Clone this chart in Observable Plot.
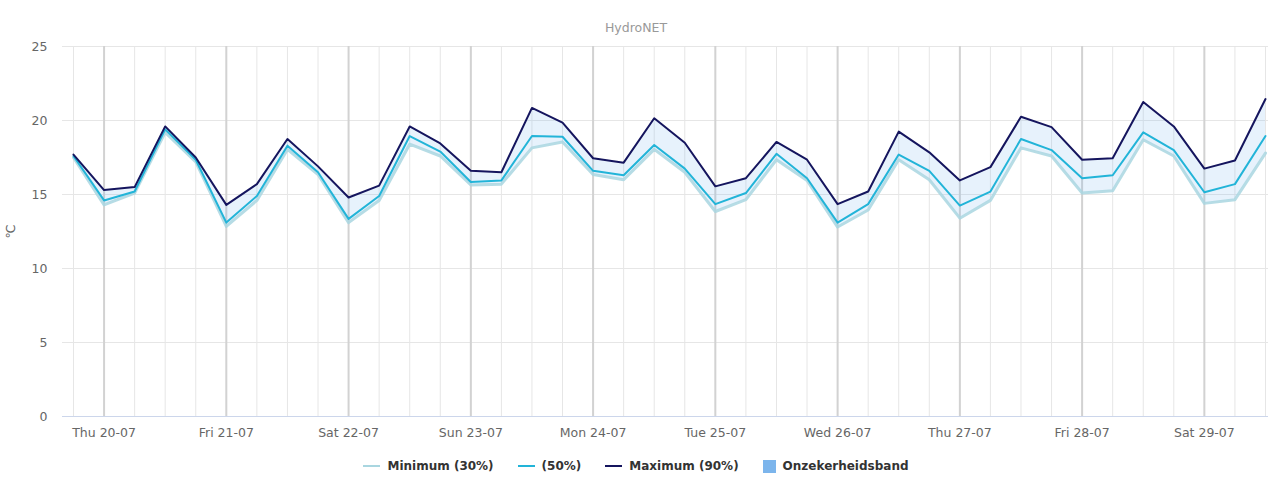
<!DOCTYPE html>
<html>
<head>
<meta charset="utf-8">
<script src="https://cdn.jsdelivr.net/npm/d3@7"></script>
<script src="https://cdn.jsdelivr.net/npm/@observablehq/plot@0.6"></script>
<style>
  body { margin: 0; background: #fff; font-family: "DejaVu Sans", Verdana, sans-serif; }
  #sub { height: 36px; box-sizing: border-box; padding-top: 21px; line-height: 14px; text-align: center; color: #999; font-size: 12.5px; }
  #legend { display: flex; justify-content: center; align-items: center; height: 20px; margin-top: 8px; font-size: 12px; font-weight: bold; color: #333; }
  .item { display: flex; align-items: center; margin: 0 12px; }
  .line { display: inline-block; width: 17px; height: 2px; margin-right: 7px; }
  .sq { display: inline-block; width: 13px; height: 13px; margin-right: 7px; }
</style>
</head>
<body>
<div id="sub">HydroNET</div>
<div id="chart"></div>
<div id="legend"></div>
<script>
// Timestamps (6-hourly)
const times = [
  "2023-07-19T18:00Z","2023-07-20T00:00Z","2023-07-20T06:00Z","2023-07-20T12:00Z","2023-07-20T18:00Z",
  "2023-07-21T00:00Z","2023-07-21T06:00Z","2023-07-21T12:00Z","2023-07-21T18:00Z",
  "2023-07-22T00:00Z","2023-07-22T06:00Z","2023-07-22T12:00Z","2023-07-22T18:00Z",
  "2023-07-23T00:00Z","2023-07-23T06:00Z","2023-07-23T12:00Z","2023-07-23T18:00Z",
  "2023-07-24T00:00Z","2023-07-24T06:00Z","2023-07-24T12:00Z","2023-07-24T18:00Z",
  "2023-07-25T00:00Z","2023-07-25T06:00Z","2023-07-25T12:00Z","2023-07-25T18:00Z",
  "2023-07-26T00:00Z","2023-07-26T06:00Z","2023-07-26T12:00Z","2023-07-26T18:00Z",
  "2023-07-27T00:00Z","2023-07-27T06:00Z","2023-07-27T12:00Z","2023-07-27T18:00Z",
  "2023-07-28T00:00Z","2023-07-28T06:00Z","2023-07-28T12:00Z","2023-07-28T18:00Z",
  "2023-07-29T00:00Z","2023-07-29T06:00Z","2023-07-29T12:00Z"
];
const maxValues = [17.7,15.3,15.5,19.6,17.5, 14.3,15.7,18.75,16.9, 14.8,15.6,19.6,18.45,
  16.6,16.5,20.85,19.85, 17.45,17.15,20.15,18.5, 15.55,16.1,18.55,17.35, 14.35,15.2,19.25,17.85,
  15.95,16.85,20.25,19.55, 17.35,17.45,21.25,19.6, 16.75,17.3,21.45];
const medValues = [17.6,14.6,15.2,19.4,17.35, 13.1,14.9,18.3,16.5, 13.35,14.9,18.95,17.9,
  15.85,15.95,18.95,18.9, 16.6,16.3,18.35,16.75, 14.35,15.1,17.75,16.1, 13.1,14.35,17.7,16.6,
  14.25,15.2,18.75,18.0, 16.1,16.3,19.2,18.0, 15.15,15.7,18.95];
const minValues = [17.5,14.3,15.1,19.2,17.2, 12.85,14.6,18.05,16.35, 13.1,14.6,18.4,17.6,
  15.65,15.7,18.15,18.55, 16.35,16.0,18.05,16.5, 13.85,14.65,17.35,15.95, 12.8,13.95,17.35,16.0,
  13.4,14.6,18.15,17.6, 15.1,15.25,18.7,17.6, 14.4,14.65,17.8];
const dayTicks = ["2023-07-20","2023-07-21","2023-07-22","2023-07-23","2023-07-24",
  "2023-07-25","2023-07-26","2023-07-27","2023-07-28","2023-07-29"];
const yTicks = [0,5,10,15,20,25];
const seriesNames = ["Minimum (30%)","(50%)","Maximum (90%)","Onzekerheidsband"];
const seriesColors = ["#a9d6e0","#22b4d8","#15155e","#7cb5ec"];

const data = times.map((t,i) => ({t: new Date(t), min: minValues[i], med: medValues[i], max: maxValues[i]}));
const days = dayTicks.map(d => new Date(d + "T00:00Z"));
const t0 = data[0].t, tN = data[data.length-1].t;
const H = 3600e3;

const fmtDay = d3.utcFormat("%a %d-%m");

const chart = Plot.plot({
  width: 1272,
  height: 412,
  marginTop: 10,
  marginBottom: 32,
  marginLeft: 62,
  marginRight: 4,
  style: {fontFamily: "'DejaVu Sans', Verdana, sans-serif", fontSize: "12px", color: "#666", background: "#fff"},
  x: {type: "utc", domain: [new Date(+t0 - 2.16*H), new Date(+tN + 0.59*H)]},
  y: {domain: [0, 25]},
  marks: [
    Plot.ruleY(yTicks, {stroke: "#e6e6e6", strokeWidth: 1}),
    Plot.ruleX(data, {x: "t", stroke: "#e6e6e6", strokeWidth: 1}),
    Plot.ruleX(days, {stroke: "#d2d2d2", strokeWidth: 2}),
    Plot.ruleY([0], {stroke: "#ccd6eb", strokeWidth: 1}),
    Plot.areaY(data, {x: "t", y1: "min", y2: "max", fill: seriesColors[3], fillOpacity: 0.18}),
    Plot.lineY(data, {x: "t", y: "min", stroke: seriesColors[0], strokeWidth: 3, strokeOpacity: 0.85}),
    Plot.lineY(data, {x: "t", y: "med", stroke: seriesColors[1], strokeWidth: 2}),
    Plot.lineY(data, {x: "t", y: "max", stroke: seriesColors[2], strokeWidth: 2}),
    Plot.axisX({ticks: days, tickFormat: fmtDay, tickSize: 0, tickPadding: 12, fontSize: 12.5, color: "#666", label: null}),
    Plot.axisY({ticks: yTicks, tickSize: 0, tickPadding: 15, fontSize: 12.5, color: "#666",
      label: "℃", labelAnchor: "center", labelArrow: "none", labelOffset: 56})
  ]
});
document.getElementById("chart").appendChild(chart);

const legend = document.getElementById("legend");
seriesNames.forEach((name, i) => {
  const item = document.createElement("div");
  item.className = "item";
  const sym = document.createElement("span");
  sym.className = i === 3 ? "sq" : "line";
  sym.style.background = seriesColors[i];
  item.appendChild(sym);
  const txt = document.createElement("span");
  txt.textContent = name;
  item.appendChild(txt);
  legend.appendChild(item);
});
</script>
</body>
</html>
